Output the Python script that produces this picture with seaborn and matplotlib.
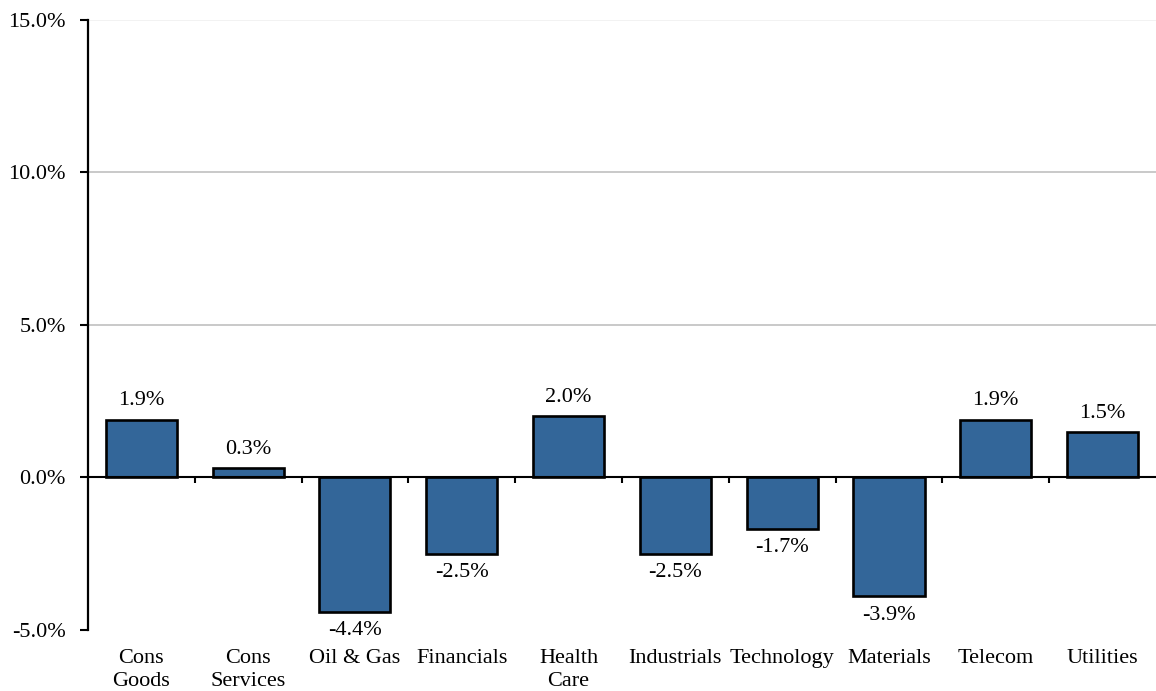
import matplotlib
matplotlib.use("Agg")
import matplotlib.pyplot as plt
import seaborn as sns
import pandas as pd

categories = ["Cons\nGoods", "Cons\nServices", "Oil & Gas", "Financials", "Health\nCare",
              "Industrials", "Technology", "Materials", "Telecom", "Utilities"]
values = [1.9, 0.3, -4.4, -2.5, 2.0, -2.5, -1.7, -3.9, 1.9, 1.5]
yticks = [-5, 0, 5, 10, 15]

sns.set_theme(style="white")
plt.rcParams['font.family'] = ['Liberation Serif', 'DejaVu Serif']
plt.rcParams['text.color'] = 'black'
plt.rcParams['xtick.color'] = 'black'
plt.rcParams['ytick.color'] = 'black'

FS = 16

df = pd.DataFrame({"cat": categories, "val": values})

fig = plt.figure(figsize=(11.56, 6.91), dpi=100)
ax = fig.add_axes([0.0761, 0.0883, 0.9239, 0.8828])

ax.axhline(5, color="#c0c0c0", lw=1.2, zorder=0)
ax.axhline(10, color="#c0c0c0", lw=1.2, zorder=0)
ax.axhline(15, color="#f0f0f0", lw=1.2, zorder=0)

sns.barplot(data=df, x="cat", y="val", color="#336699", saturation=1,
            width=0.665, edgecolor="black", linewidth=1.9, ax=ax, zorder=3)

ax.axhline(0, color="black", lw=1.5, zorder=4)
for k in range(1, len(categories)):
    ax.plot([k - 0.5, k - 0.5], [0, -0.17], color="black", lw=1.5, zorder=4,
            solid_capstyle="butt")

for i, v in enumerate(values):
    if v >= 0:
        ax.text(i, v + 0.3, f"{v:.1f}%", ha="center", va="bottom", fontsize=FS)
    else:
        ax.text(i, v - 0.3, f"{v:.1f}%", ha="center", va="top", fontsize=FS)

ax.set_xlim(-0.5, len(categories) - 0.5)
ax.set_ylim(-5, 15)
ax.set_yticks(yticks)
ax.set_yticklabels([f"{t:.1f}%" for t in yticks], fontsize=FS)
ax.set_xlabel("")
ax.set_ylabel("")
ax.tick_params(axis="x", length=0, labelsize=FS, pad=14)
ax.tick_params(axis="y", length=6, width=1.5, color="black", direction="out", left=True, pad=10)
for lbl in ax.get_xticklabels():
    lbl.set_linespacing(1.25)

for s in ["top", "right", "bottom"]:
    ax.spines[s].set_visible(False)
ax.spines["left"].set_color("black")
ax.spines["left"].set_linewidth(1.6)

fig.savefig("out.png", dpi=100)
